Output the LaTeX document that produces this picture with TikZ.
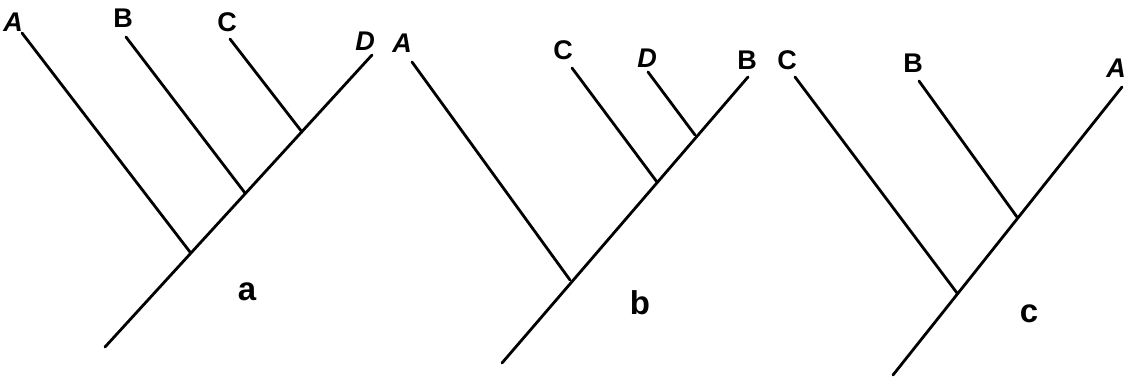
\documentclass[tikz,border=0pt]{standalone}
\usepackage{fontspec}
\setmainfont{Liberation Sans}
\begin{document}
\begin{tikzpicture}[x=1pt,y=-1pt,
  branch/.style={line width=2.8pt,line cap=round},
  leaf/.style={font=\fontsize{27}{27}\selectfont\bfseries,inner sep=0pt},
  panel/.style={font=\fontsize{33}{33}\selectfont\bfseries,inner sep=0pt}]
\useasboundingbox (0,0) rectangle (1127,377);
% panel a
\coordinate (aR) at (105,347);
\coordinate (aD) at (372,55);
\coordinate (a1) at (190,252);
\coordinate (a2) at (245,193);
\coordinate (a3) at (302,132);
\coordinate (aA) at (22,33);
\coordinate (aB) at (126,37);
\coordinate (aC) at (230,39);
\draw[branch] (aR) -- (aD);
\draw[branch] (a1) -- (aA);
\draw[branch] (a2) -- (aB);
\draw[branch] (a3) -- (aC);
\node[leaf] (laA) at (13,22) {\itshape A};
\node[leaf] (laB) at (123,18) {B};
\node[leaf] (laC) at (227,22) {C};
\node[leaf] (laD) at (365,41) {\itshape D};
\node[panel] (la) at (247,292) {a};
% panel b
\coordinate (bR) at (502,363);
\coordinate (bB) at (748,77);
\coordinate (b1) at (570,280);
\coordinate (b2) at (657,182);
\coordinate (b3) at (695,135);
\coordinate (bA) at (412,62);
\coordinate (bC) at (572,68);
\coordinate (bD) at (648,72);
\draw[branch] (bR) -- (bB);
\draw[branch] (b1) -- (bA);
\draw[branch] (b2) -- (bC);
\draw[branch] (b3) -- (bD);
\node[leaf] (lbA) at (402,43) {\itshape A};
\node[leaf] (lbC) at (563,50) {C};
\node[leaf] (lbD) at (647,58) {\itshape D};
\node[leaf] (lbB) at (747,60) {B};
\node[panel] (lb) at (640,303) {b};
% panel c
\coordinate (cR) at (893,375);
\coordinate (cA) at (1122,87);
\coordinate (c1) at (957,293);
\coordinate (c2) at (1017,217);
\coordinate (cC) at (795,77);
\coordinate (cB) at (919,81);
\draw[branch] (cR) -- (cA);
\draw[branch] (c1) -- (cC);
\draw[branch] (c2) -- (cB);
\node[leaf] (lcC) at (787,60) {C};
\node[leaf] (lcB) at (913,63) {B};
\node[leaf] (lcA) at (1116,68) {\itshape A};
\node[panel] (lc) at (1029,314) {c};
\end{tikzpicture}
\end{document}
